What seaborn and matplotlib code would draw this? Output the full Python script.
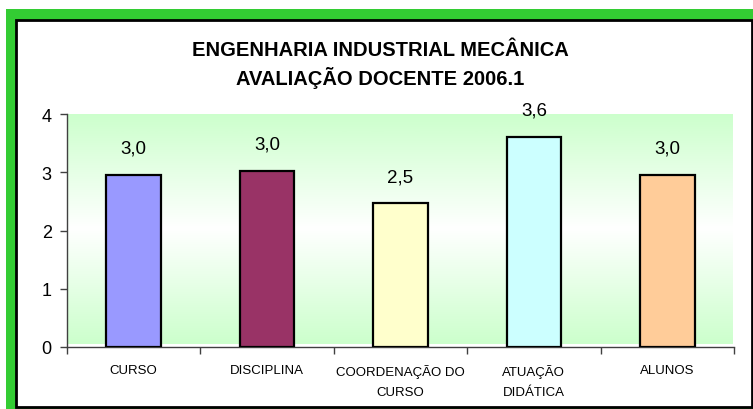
import numpy as np
import pandas as pd
import matplotlib
matplotlib.use("Agg")
import matplotlib.pyplot as plt
from matplotlib.patches import Rectangle
from matplotlib.colors import LinearSegmentedColormap
import seaborn as sns

categories = ["CURSO", "DISCIPLINA", "COORDENAÇÃO DO\nCURSO", "ATUAÇÃO\nDIDÁTICA", "ALUNOS"]
values = [2.96, 3.03, 2.47, 3.61, 2.96]
value_labels = ["3,0", "3,0", "2,5", "3,6", "3,0"]
bar_colors = ["#9999FF", "#993366", "#FFFFCC", "#CCFFFF", "#FFCC99"]
title_lines = ["ENGENHARIA INDUSTRIAL MECÂNICA", "AVALIAÇÃO DOCENTE 2006.1"]
yticks = [0, 1, 2, 3, 4]

sns.set_theme(style="white")
plt.rcParams["font.family"] = ["Liberation Sans", "DejaVu Sans"]

W, H = 753, 410
fig = plt.figure(figsize=(W / 100, H / 100), dpi=100)
fig.patch.set_facecolor("white")

# frame: green outer band, white inner panel with black border
fig.patches.append(Rectangle((6 / W, 0), 1 - 6 / W, 1 - 10 / H, transform=fig.transFigure,
                             facecolor="#33CC33", edgecolor="none", zorder=-2))
fig.patches.append(Rectangle((15.5 / W, 2.5 / H), (751.5 - 15.5) / W, (389.5 - 2.5) / H,
                             transform=fig.transFigure, facecolor="white",
                             edgecolor="black", linewidth=2, zorder=-1))

ax = fig.add_axes([67 / W, 1 - 348 / H, (734 - 67) / W, (348 - 115) / H])
ax.set_zorder(1)
ax.set_facecolor("none")

df = pd.DataFrame({"cat": categories, "val": values})
sns.barplot(data=df, x="cat", y="val", hue="cat", palette=bar_colors, order=categories,
            hue_order=categories, width=0.41, edgecolor="black", linewidth=1.6,
            saturation=1, legend=False, ax=ax, zorder=3)

ax.set_xlim(-0.5, len(categories) - 0.5)
ax.set_ylim(0, 4)

# gradient background (green - white - green)
cmap = LinearSegmentedColormap.from_list("g", ["#CCFFCC", "#FFFFFF", "#CCFFCC"])
grad = np.linspace(0, 1, 256).reshape(-1, 1)
ax.imshow(grad, cmap=cmap, aspect="auto", extent=(-0.5, len(categories) - 0.5 - 0.01, 0.05, 4),
          origin="lower", zorder=0)

for i, (v, lab) in enumerate(zip(values, value_labels)):
    ax.annotate(lab, (i, v), xytext=(0, 19), textcoords="offset points",
                ha="center", va="center", fontsize=13.5, color="black")

ax.set_xlabel("")
ax.set_ylabel("")
ax.set_yticks(yticks)
ax.set_yticklabels([str(t) for t in yticks], fontsize=13, color="black")
ax.set_xticks(range(len(categories)))
ax.set_xticklabels(categories, fontsize=9.5, color="black", linespacing=1.9)
ax.set_xticks(np.arange(-0.5, len(categories)), minor=True)
ax.tick_params(axis="x", which="major", length=0, pad=12)
ax.tick_params(axis="x", which="minor", length=5, width=1, direction="out", color="#404040", bottom=True)
ax.tick_params(axis="y", which="major", length=5, width=1, direction="out", color="#404040", left=True, pad=6)

for s in ["top", "right"]:
    ax.spines[s].set_visible(False)
for s in ["left", "bottom"]:
    ax.spines[s].set_color("#404040")
    ax.spines[s].set_linewidth(1.0)

fig.text(380 / W, 1 - 50 / H, title_lines[0], ha="center", va="center",
         fontsize=14.5, fontweight="bold", color="black")
fig.text(380 / W, 1 - 78 / H, title_lines[1], ha="center", va="center",
         fontsize=14.5, fontweight="bold", color="black")

fig.savefig("out.png", dpi=100)
